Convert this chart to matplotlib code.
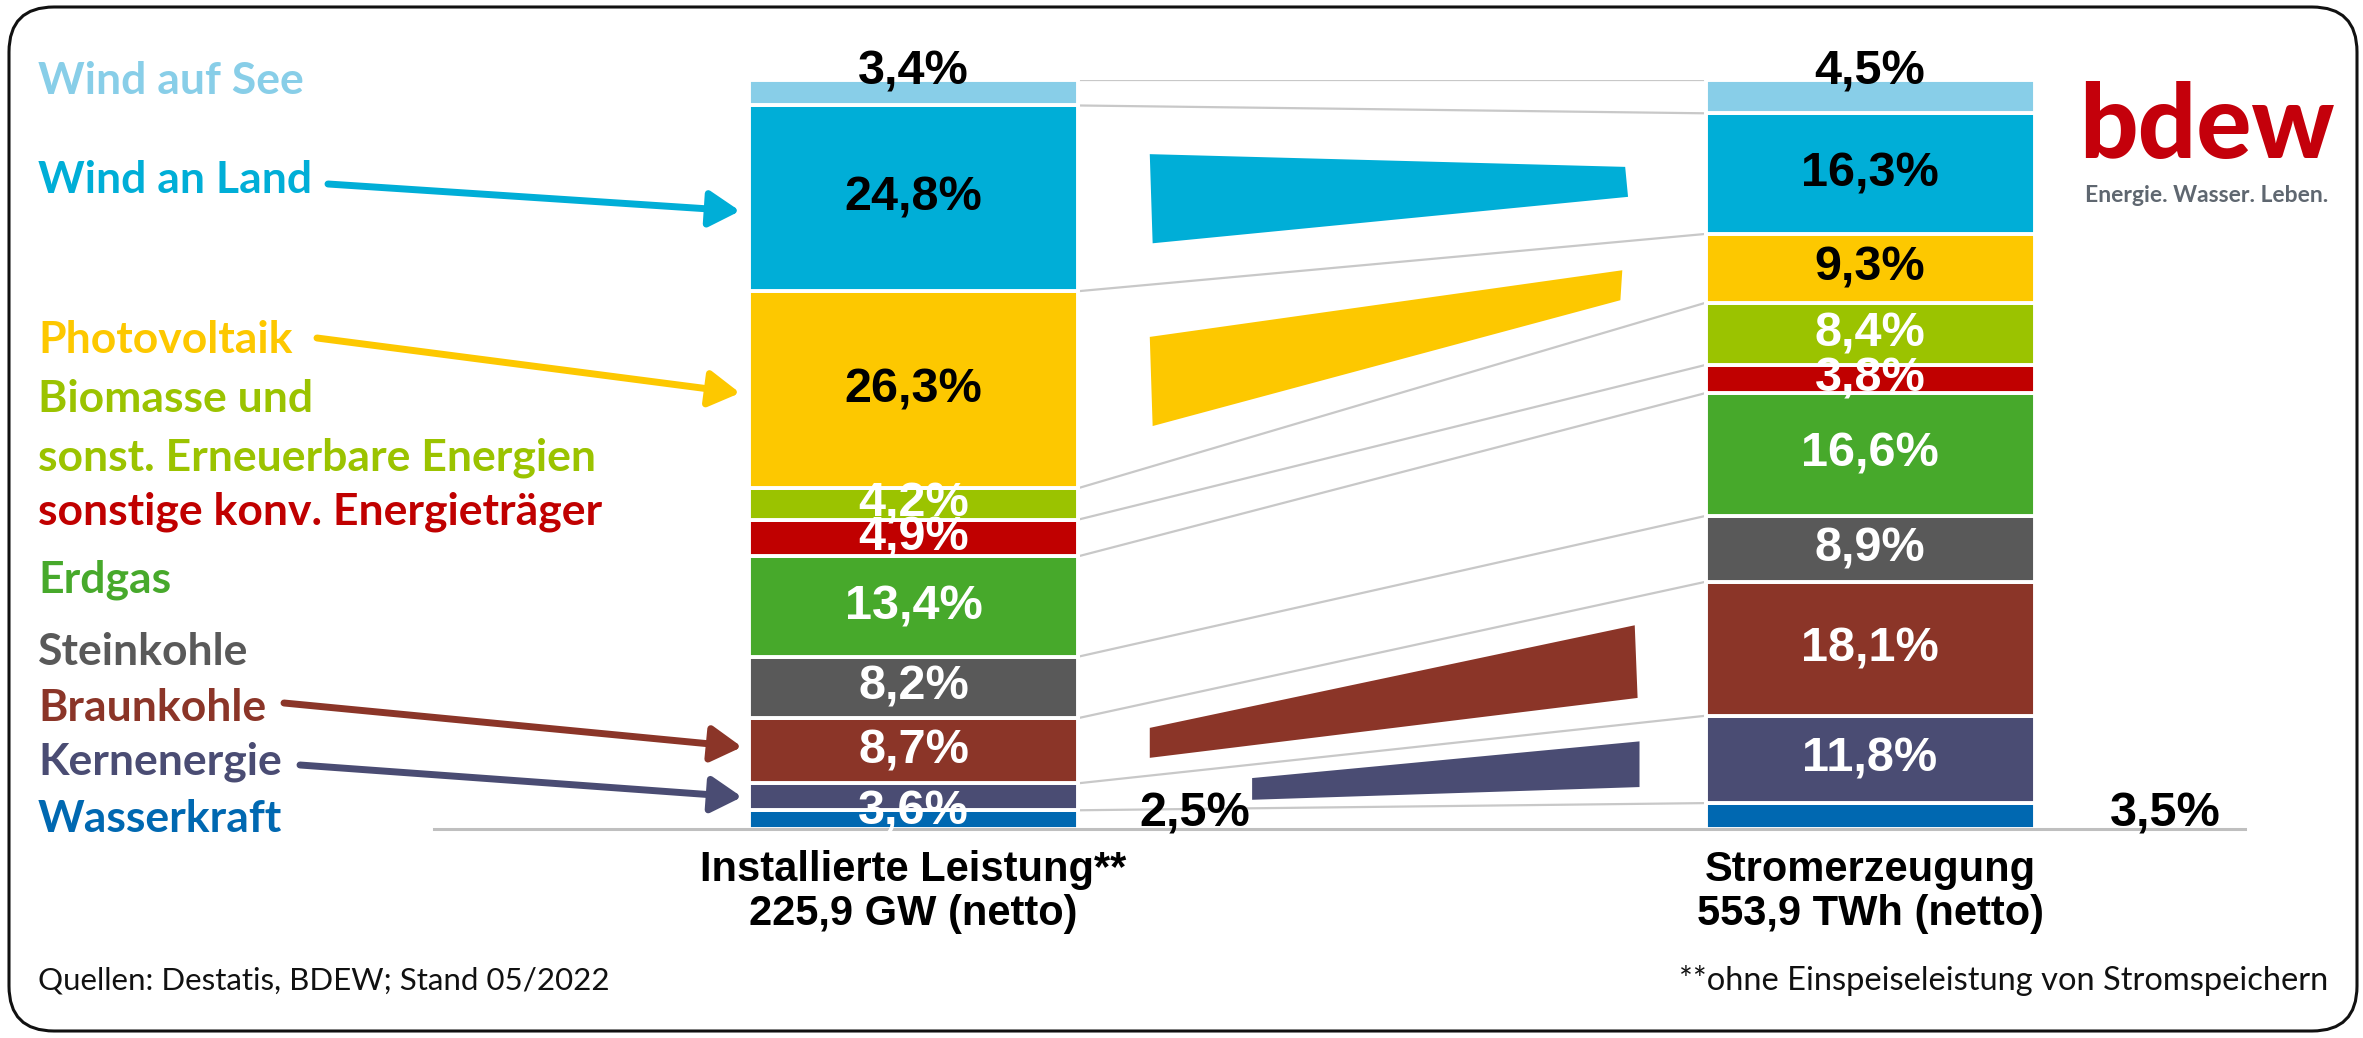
import matplotlib
matplotlib.use('Agg')
import matplotlib.pyplot as plt
from matplotlib.patches import FancyBboxPatch, Polygon
import numpy as np

# data (bottom -> top)
categories = ['Wasserkraft', 'Kernenergie', 'Braunkohle', 'Steinkohle', 'Erdgas',
              'sonstige konv. Energieträger', 'Biomasse und sonst. Erneuerbare Energien',
              'Photovoltaik', 'Wind an Land', 'Wind auf See']
leistung = [2.5, 3.6, 8.7, 8.2, 13.4, 4.9, 4.2, 26.3, 24.8, 3.4]
erzeugung = [3.5, 11.8, 18.1, 8.9, 16.6, 3.8, 8.4, 9.3, 16.3, 4.5]
bar_titles = ['Installierte Leistung**', 'Stromerzeugung']
bar_totals = ['225,9 GW (netto)', '553,9 TWh (netto)']

colors = ['#0068b1', '#4a4c73', '#8b3528', '#595959', '#47a92b',
          '#c00000', '#9bc300', '#fdc800', '#00aed7', '#88cee8']
label_col = ['black', 'white', 'white', 'white', 'white',
             'white', 'white', 'black', 'black', 'black']

# legend text lines (top -> bottom), category index, baseline in px
legend_lines = ['Wind auf See', 'Wind an Land', 'Photovoltaik', 'Biomasse und',
                'sonst. Erneuerbare Energien', 'sonstige konv. Energieträger',
                'Erdgas', 'Steinkohle', 'Braunkohle', 'Kernenergie', 'Wasserkraft']
legend_cat = [9, 8, 7, 6, 6, 5, 4, 3, 2, 1, 0]
legend_base = [94, 193, 353, 412, 470, 525, 593, 665, 721, 775, 832]

W, H = 2363, 1038
fig = plt.figure(figsize=(W / 100, H / 100), dpi=100)

# overlay axes in pixel coords for frame, legend, arrows, logo
ov = fig.add_axes([0, 0, 1, 1])
ov.set_xlim(0, W)
ov.set_ylim(H, 0)
ov.axis('off')

ov.add_patch(FancyBboxPatch((9, 7), 2348, 1024, boxstyle='round,pad=0,rounding_size=45',
                            fill=False, ec='#111111', lw=2.2))

for txt, ci, yb in zip(legend_lines, legend_cat, legend_base):
    ov.text(38, yb, txt, color=colors[ci], fontsize=32, fontweight='bold',
            family='Lato', va='baseline', ha='left')

# pointer arrows from legend to left bar
arrows = [(8, (328, 184), (740, 211)),
          (7, (317, 338), (740, 393)),
          (2, (284, 703), (742, 747)),
          (1, (300, 765), (742, 797))]
for ci, start, tip in arrows:
    ov.annotate('', xy=tip, xytext=start,
                arrowprops=dict(arrowstyle='-|>,head_length=0.85,head_width=0.5',
                                mutation_scale=22, lw=5, color=colors[ci],
                                shrinkA=0, shrinkB=0))

# logo
ov.text(2207, 158, 'bdew', color='#c4000b', fontsize=74, fontweight='black',
        family='Lato', ha='center', va='baseline')
ov.text(2207, 196, 'Energie. Wasser. Leben.', color='#5f6770', fontsize=16.5,
        fontweight='bold', family='Lato', ha='center', va='center')

# footer
ov.text(38, 980, 'Quellen: Destatis, BDEW; Stand 05/2022', fontsize=22.5,
        family='Lato', ha='left', va='center', color='#111111')
ov.text(2328, 980, '**ohne Einspeiseleistung von Stromspeichern', fontsize=23.5,
        family='Lato', ha='right', va='center', color='#111111')

# chart axes
ax = fig.add_axes([434 / W, (H - 829) / H, 1811 / W, 749 / H])
ax.patch.set_alpha(0)
ax.set_xlim(-0.5013, 1.392)
ax.set_ylim(0, 100)
for s in ['top', 'left', 'right']:
    ax.spines[s].set_visible(False)
ax.spines['bottom'].set_color('#bfbfbf')
ax.spines['bottom'].set_linewidth(2.2)
ax.set_xticks([])
ax.set_yticks([])

bw = 0.344
label_shift = {(0, 1): -2.0}
series = [np.array(leistung), np.array(erzeugung)]
tops = []
for xi, vals in enumerate(series):
    v = vals * 100 / vals.sum()
    bottoms = np.concatenate([[0], np.cumsum(v)[:-1]])
    ax.bar(np.full(len(v), xi), v, bw, bottom=bottoms, color=colors,
           edgecolor='white', linewidth=2.8, zorder=2)
    tops.append(bottoms + v)
    for i in range(len(v)):
        lab = f'{vals[i]:.1f}'.replace('.', ',') + '%'
        kw = dict(fontsize=35, fontweight='bold', family='Liberation Sans',
                  color=label_col[i], ha='center', zorder=5)
        if i == len(v) - 1:
            ax.text(xi, 99.4, lab, va='baseline', **kw)
        elif i == 0:
            ax.text(xi + (0.294 if xi == 0 else 0.309), 0.3, lab, va='baseline', **kw)
        else:
            yc = bottoms[i] + v[i] / 2 + label_shift.get((xi, i), 0)
            ax.text(xi, yc, lab, va='center', **kw)
    ax.text(xi, -5.5, bar_titles[xi], fontsize=30, fontweight='bold',
            family='Liberation Sans', ha='center', va='center')
    ax.text(xi, -11.4, bar_totals[xi], fontsize=30, fontweight='bold',
            family='Liberation Sans', ha='center', va='center')

# connector lines between segment tops
for yl, yr in zip(tops[0], tops[1]):
    ax.plot([bw / 2, 1 - bw / 2], [yl, yr], color='#c8c8c8', lw=1.6, zorder=1,
            solid_capstyle='butt')

# trend shapes between the bars
trend_shapes = [
    (8, [(0.247, 90.1), (0.744, 88.4), (0.747, 84.4), (0.250, 78.2)]),
    (7, [(0.247, 65.7), (0.741, 74.6), (0.739, 70.6), (0.250, 53.8)]),
    (2, [(0.247, 13.5), (0.754, 27.2), (0.757, 17.5), (0.247, 9.5)]),
    (1, [(0.354, 6.8), (0.759, 11.7), (0.759, 5.6), (0.354, 3.9)]),
]
for ci, pts in trend_shapes:
    ax.add_patch(Polygon(pts, closed=True, fc=colors[ci], ec='none', zorder=3))

fig.savefig('out.png', dpi=100)
